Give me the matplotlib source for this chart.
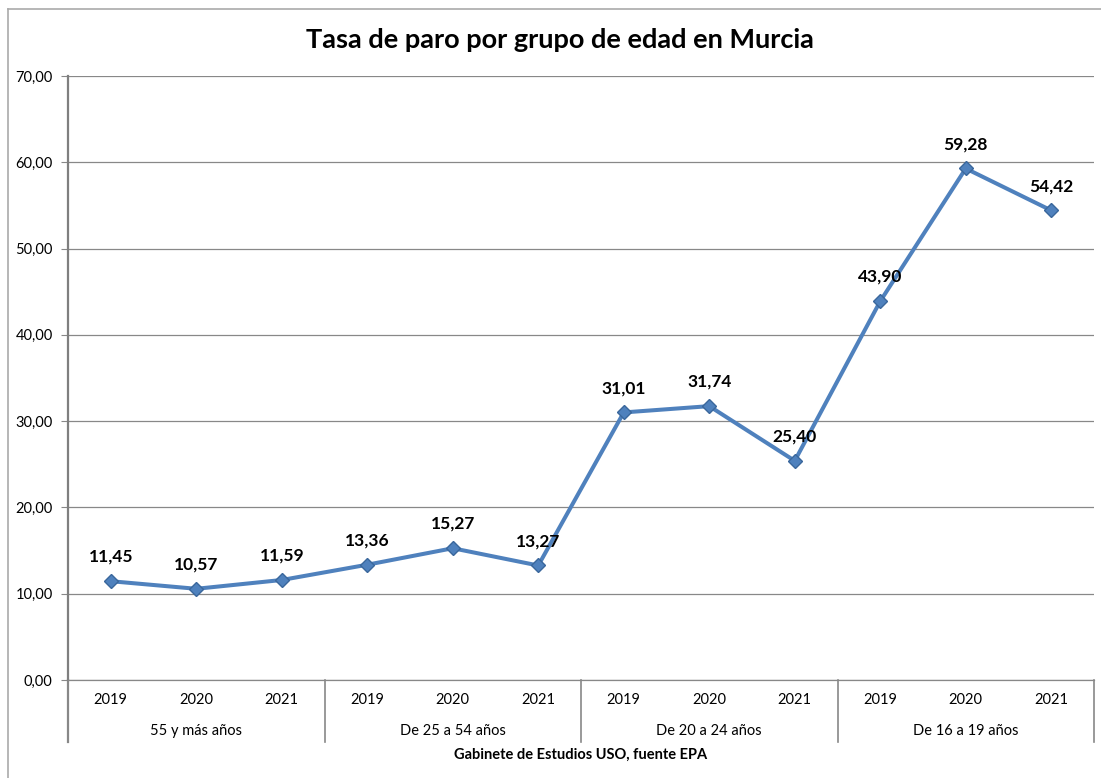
import matplotlib.pyplot as plt
from matplotlib.lines import Line2D
from matplotlib.ticker import FuncFormatter

plt.rcParams['font.family'] = ['Lato', 'DejaVu Sans']

groups = ["55 y más años", "De 25 a 54 años", "De 20 a 24 años", "De 16 a 19 años"]
years = ["2019", "2020", "2021"]
tasa = [11.45, 10.57, 11.59, 13.36, 15.27, 13.27, 31.01, 31.74, 25.40, 43.90, 59.28, 54.42]

line_color = '#4F81BD'
grid_color = '#888888'

fig = plt.figure(figsize=(11.01, 7.78), dpi=100)
ax = fig.add_axes([68 / 1101, 1 - 680 / 778, (1094 - 68) / 1101, (680 - 76) / 778])

x = [i + 0.5 for i in range(len(tasa))]
ax.plot(x, tasa, color=line_color, lw=2.9, marker='D', ms=7.5,
        mfc=line_color, mec='#3A679C', mew=1, zorder=3)

for xi, v in zip(x, tasa):
    ax.annotate(("%.2f" % v).replace('.', ','), (xi, v), xytext=(0, 17.5),
                textcoords='offset points', ha='center', va='center',
                fontsize=12.5, fontweight='bold')

ax.set_xlim(0, len(tasa))
ax.set_ylim(0, 70)
ax.set_yticks(range(0, 71, 10))
ax.yaxis.set_major_formatter(FuncFormatter(lambda v, p: ("%.2f" % v).replace('.', ',')))
ax.tick_params(axis='y', length=5, color=grid_color, labelsize=10.5, pad=6)
ax.set_xticks([])
ax.grid(axis='y', color=grid_color, lw=0.9)
ax.set_axisbelow(True)

for s in ['top', 'right']:
    ax.spines[s].set_visible(False)
ax.spines['left'].set_color('#7f7f7f')
ax.spines['left'].set_linewidth(1.6)
ax.spines['bottom'].set_color(grid_color)
ax.spines['bottom'].set_linewidth(0.9)

trans = ax.get_xaxis_transform()
sep_bottom = -(742 - 680) / 604
for g in range(len(groups) + 1):
    ax.plot([g * 3, g * 3], [0, sep_bottom], transform=trans, color=grid_color,
            lw=1.2 if g else 1.6, clip_on=False)

for i, xi in enumerate(x):
    ax.text(xi, -(700 - 680) / 604, years[i % 3], transform=trans, ha='center',
            va='center', fontsize=10.5)
for g, name in enumerate(groups):
    ax.text(g * 3 + 1.5, -(731 - 680) / 604, name, transform=trans, ha='center',
            va='center', fontsize=10.5)

fig.text(581 / 1101, 1 - 755 / 778, "Gabinete de Estudios USO, fuente EPA",
         ha='center', va='center', fontsize=10.5, fontweight='bold')
fig.text(560 / 1101, 1 - 40 / 778, "Tasa de paro por grupo de edad en Murcia",
         ha='center', va='center', fontsize=19.5, fontweight='bold')

fig.add_artist(Line2D([8 / 1101, 8 / 1101], [0, 1 - 9 / 778], color='#aaaaaa', lw=1.2))
fig.add_artist(Line2D([8 / 1101, 1], [1 - 9 / 778, 1 - 9 / 778], color='#aaaaaa', lw=1.2))

fig.savefig('out.png', dpi=100)
